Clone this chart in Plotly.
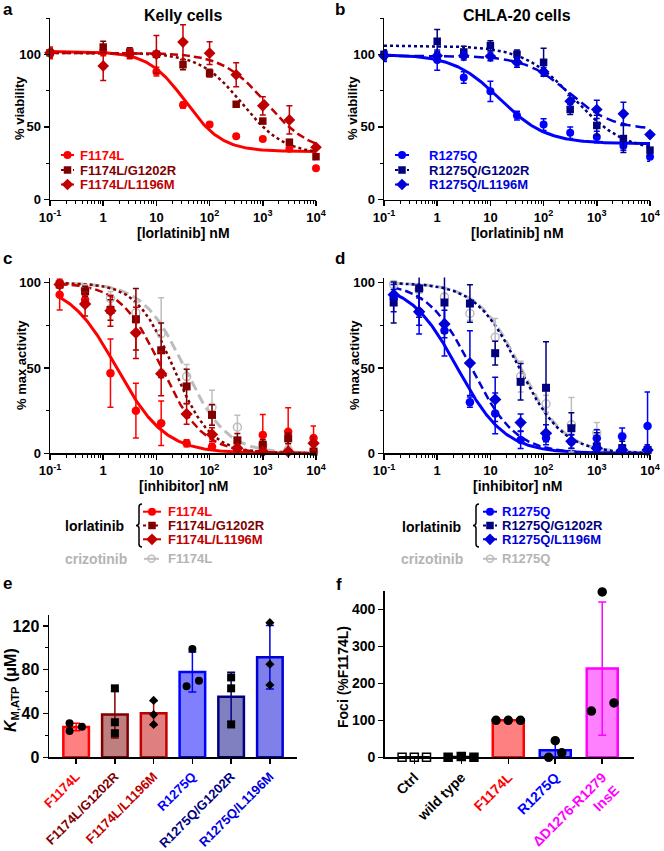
import numpy as np
import plotly.graph_objects as go

# ---------------- data ----------------
# panels a/b: cell viability, half-log dilutions of lorlatinib (nM)
conc_viability = [0.1, 1, 3.16, 10, 31.6, 100, 316, 1000, 3160, 10000]

kelly_F1174L = [101, 102, 100, 88, 65, 51.6, 43.6, 41.7, 35, 21.5]
kelly_F1174L_err = [4, 3, 3, 3, 2, 1, 1, 1, 1, 1]
kelly_F1174L_G1202R = [101, 105, 101.5, 100, 92.8, 87, 65.6, 54, 39.4, 29.5]
kelly_F1174L_G1202R_err = [3, 4, 3, 2, 3.4, 2.7, 1.5, 1.5, 2, 2]
kelly_F1174L_L1196M = [101, 92, 100.5, 100, 108.4, 100.8, 85.9, 64.5, 54.8, 36]
kelly_F1174L_L1196M_err = [3, 10, 3, 13, 12, 7.8, 8.3, 6.3, 9.7, 3]

chla_R1275Q = [99, 96, 84, 74.5, 57.8, 51.6, 46, 43, 37, 29.4]
chla_R1275Q_err = [4, 7, 4, 7, 3, 4, 4, 4, 3, 3]
chla_R1275Q_G1202R = [100, 109, 101.6, 106, 100, 94.5, 62, 51, 42, 34]
chla_R1275Q_G1202R_err = [3, 8, 4, 3.4, 3, 9.7, 3.4, 7, 9.7, 3]
chla_R1275Q_L1196M = [99, 99, 99, 98.6, 94.5, 88, 67.7, 62, 59, 44.7]
chla_R1275Q_L1196M_err = [3, 3, 3, 3, 3.4, 3, 4, 6.3, 8, 1]

# fitted 4-parameter curves: [top, bottom, IC50 (nM), Hill slope]
fit_kelly_F1174L = [102, 33, 35, 1.25]
fit_kelly_F1174L_G1202R = [101, 31, 410, 1.1]
fit_kelly_F1174L_L1196M = [101, 32, 1150, 1.05]
fit_chla_R1275Q = [100, 38.5, 15, 1.0]
fit_chla_R1275Q_G1202R = [106, 33, 370, 0.92]
fit_chla_R1275Q_L1196M = [99, 48, 300, 1.05]

# panels c/d: kinase activity, 3-fold dilutions of inhibitor (nM)
conc_activity = [0.152, 0.457, 1.37, 4.12, 12.3, 37, 111, 333, 1000, 3000, 9000]

act_F1174L = [93, 90, 47, 25, 17.6, 5.9, 3.9, 2, 10.8, 12.7, 9]
act_F1174L_err = [9, 3, 20, 16, 13, 2, 2, 2, 12, 14, 7]
act_F1174L_G1202R = [99, 95, 84, 78.6, 60.4, 39.2, 22.5, 7.6, 5, 8.8, 1]
act_F1174L_G1202R_err = [2, 3, 6, 18, 16, 10, 6, 4, 3, 3, 1]
act_F1174L_L1196M = [99, 87.5, 83.5, 70.6, 46.7, 23, 11, 3, 1, 1, 5.9]
act_F1174L_L1196M_err = [2, 7, 9, 15, 13, 6, 4, 2, 2, 1, 4]
act_F1174L_crizo = [99, 96, 90.8, 82.4, 70.2, 45, 27, 15.3, 5, 2, 1]
act_F1174L_crizo_err = [2, 3, 4, 6, 21, 7, 10, 7, 4, 3, 2]

act_R1275Q = [91, 83, 72, 30, 23.4, 7.8, 9, 6.8, 8.8, 9.8, 16]
act_R1275Q_err = [8, 13, 15, 3, 12, 5, 4, 4, 5, 5, 20]
act_R1275Q_G1202R = [88.4, 96.7, 88.4, 87.8, 58.7, 41.9, 38.4, 14.7, 4, 3, 2]
act_R1275Q_G1202R_err = [12, 17, 18, 11, 7, 10.7, 27, 9, 8, 4, 2]
act_R1275Q_L1196M = [93, 83, 75.8, 52.9, 31.6, 18, 11.7, 7, 3, 2, 2]
act_R1275Q_L1196M_err = [3, 8, 8, 19, 13, 5, 5, 4, 3, 2, 3]
act_R1275Q_crizo = [99, 96, 91.7, 82, 68, 45, 29, 16.7, 12, 10, 1]
act_R1275Q_crizo_err = [2, 2, 2, 4, 11, 9, 5, 16, 6, 2, 1]

fit_act_F1174L = [100, 0, 1.8, 0.96]
fit_act_F1174L_G1202R = [100, 0, 21, 1.25]
fit_act_F1174L_L1196M = [100, 0, 12.5, 1.12]
fit_act_F1174L_crizo = [100, 0, 34, 1.1]
fit_act_R1275Q = [100, 0, 2.4, 0.98]
fit_act_R1275Q_G1202R = [100, 0, 35, 1.05]
fit_act_R1275Q_L1196M = [100, 0, 4.4, 1.05]
fit_act_R1275Q_crizo = [100, 0, 37, 1.05]

# panel e: KM,ATP (uM)
km_labels = ["F1174L", "F1174L/G1202R", "F1174L/L1196M", "R1275Q", "R1275Q/G1202R", "R1275Q/L1196M"]
km_mean = [27.7, 39, 40.3, 78, 55.3, 91.3]
km_sd = [3.5, 21.4, 11.1, 18.3, 22.5, 29]
km_reps = [[31, 24, 28], [63, 32, 22], [52, 39, 30], [99, 65, 70], [73, 63, 30], [123, 85, 66]]

# panel f: foci (% of F1174L)
foci_labels = ["Ctrl", "wild type", "F1174L", "R1275Q", "\u0394D1276-R1279<br>InsE"]
foci_mean = [0, 0.7, 100, 19, 239.7]
foci_sd = [0, 1, 0, 23.3, 180]
foci_reps = [[0, 0, 0], [0, 2, 0], [100, 100, 100], [0, 45, 12], [447, 125, 147]]

# ---------------- style ----------------
W, H = 664, 851
FONT = "Liberation Sans, Arial, sans-serif"
RED, DARKRED, CRIMSON = "#FF0000", "#800000", "#C00000"
BLUE, NAVY, MBLUE = "#0000FF", "#000080", "#0000D8"
GRAY, GRAYTXT, MAGENTA = "#BDBDBD", "#B4B4B4", "#FF00FF"

km_fill = ["#FF8080", "#BF7F7F", "#E07F7F", "#8080FF", "#8080C0", "#8080EA"]
km_line = [RED, DARKRED, CRIMSON, BLUE, NAVY, MBLUE]
km_sym = ["circle", "square", "diamond", "circle", "square", "diamond"]
km_jit = [[-0.17, -0.17, 0.15], [0, 0, 0], [0, 0, 0], [0, -0.15, 0.17], [0, 0, 0], [0, 0, 0]]

foci_fill = ["white", "black", "#FF8080", "#8080FF", "#FF80FF"]
foci_line = ["black", "black", RED, BLUE, MAGENTA]
foci_txt = ["black", "black", RED, BLUE, MAGENTA]
foci_sym = ["square-open", "square", "circle", "circle", "circle"]
foci_jit = [[-0.26, 0, 0.26], [-0.28, 0, 0.27], [-0.26, 0, 0.26], [-0.14, 0, 0.14], [0, -0.23, 0.25]]


def px(x):
    return x / W


def py(y):
    return 1 - y / H


fig = go.Figure()


def add_curve(ax, params, xmin, xmax, color, dash, width=2.5):
    top, bottom, ic50, hill = params
    xs = np.logspace(np.log10(xmin), np.log10(xmax), 250)
    ys = bottom + (top - bottom) / (1 + (xs / ic50) ** hill)
    fig.add_trace(go.Scatter(x=xs, y=ys, mode="lines", hoverinfo="skip",
                             line=dict(color=color, dash=dash, width=width),
                             xaxis="x" + ax, yaxis="y" + ax))


def add_points(ax, x, y, err, color, symbol, size):
    is_open = symbol.endswith("open")
    fig.add_trace(go.Scatter(
        x=x, y=y, mode="markers", cliponaxis=False,
        marker=dict(symbol=symbol, size=size, color=color,
                    line=dict(width=1.5 if is_open else 0, color=color)),
        error_y=dict(type="data", array=err, color=color, thickness=1.5, width=3),
        xaxis="x" + ax, yaxis="y" + ax))


# panel a
add_curve("", fit_kelly_F1174L, 0.1, 10000, RED, "solid", 3)
add_curve("", fit_kelly_F1174L_G1202R, 0.1, 10000, DARKRED, "dot", 2.5)
add_curve("", fit_kelly_F1174L_L1196M, 0.1, 10000, CRIMSON, "8px,4px", 2.5)
add_points("", conc_viability, kelly_F1174L, kelly_F1174L_err, RED, "circle", 8)
add_points("", conc_viability, kelly_F1174L_G1202R, kelly_F1174L_G1202R_err, DARKRED, "square", 7.5)
add_points("", conc_viability, kelly_F1174L_L1196M, kelly_F1174L_L1196M_err, CRIMSON, "diamond", 9)

# panel b
add_curve("2", fit_chla_R1275Q, 0.1, 10000, BLUE, "solid", 3)
add_curve("2", fit_chla_R1275Q_G1202R, 0.1, 10000, NAVY, "dot", 2.5)
add_curve("2", fit_chla_R1275Q_L1196M, 0.1, 10000, MBLUE, "10px,5px", 2.5)
add_points("2", conc_viability, chla_R1275Q, chla_R1275Q_err, BLUE, "circle", 8)
add_points("2", conc_viability, chla_R1275Q_G1202R, chla_R1275Q_G1202R_err, NAVY, "square", 7.5)
add_points("2", conc_viability, chla_R1275Q_L1196M, chla_R1275Q_L1196M_err, MBLUE, "diamond", 9)

# panel c
cmin, cmax = conc_activity[0], conc_activity[-1]
add_curve("3", fit_act_F1174L_crizo, cmin, cmax, GRAY, "10px,5px", 3)
add_curve("3", fit_act_F1174L, cmin, cmax, RED, "solid", 3)
add_curve("3", fit_act_F1174L_G1202R, cmin, cmax, DARKRED, "dot", 2.5)
add_curve("3", fit_act_F1174L_L1196M, cmin, cmax, CRIMSON, "8px,4px", 2.5)
add_points("3", conc_activity, act_F1174L_crizo, act_F1174L_crizo_err, GRAY, "circle-open", 8)
add_points("3", conc_activity, act_F1174L, act_F1174L_err, RED, "circle", 8.5)
add_points("3", conc_activity, act_F1174L_G1202R, act_F1174L_G1202R_err, DARKRED, "square", 8)
add_points("3", conc_activity, act_F1174L_L1196M, act_F1174L_L1196M_err, CRIMSON, "diamond", 9.5)

# panel d
add_curve("4", fit_act_R1275Q_crizo, cmin, cmax, GRAY, "10px,5px", 3)
add_curve("4", fit_act_R1275Q, cmin, cmax, BLUE, "solid", 3)
add_curve("4", fit_act_R1275Q_G1202R, cmin, cmax, NAVY, "dot", 2.5)
add_curve("4", fit_act_R1275Q_L1196M, cmin, cmax, MBLUE, "8px,4px", 2.5)
add_points("4", conc_activity, act_R1275Q_crizo, act_R1275Q_crizo_err, GRAY, "circle-open", 8)
add_points("4", conc_activity, act_R1275Q, act_R1275Q_err, BLUE, "circle", 8.5)
add_points("4", conc_activity, act_R1275Q_G1202R, act_R1275Q_G1202R_err, NAVY, "square", 8)
add_points("4", conc_activity, act_R1275Q_L1196M, act_R1275Q_L1196M_err, MBLUE, "diamond", 9.5)

# panel e bars
for i in range(len(km_labels)):
    fig.add_trace(go.Bar(x=[i], y=[km_mean[i]], width=0.66, xaxis="x5", yaxis="y5",
                         marker=dict(color=km_fill[i], line=dict(color=km_line[i], width=2.5)),
                         error_y=dict(type="data", array=[km_sd[i]], color=km_line[i], thickness=1.5, width=4)))
for i in range(len(km_labels)):
    fig.add_trace(go.Scatter(x=[i + d for d in km_jit[i]], y=km_reps[i], mode="markers", cliponaxis=False,
                             marker=dict(symbol=km_sym[i], size=8 if km_sym[i] != "diamond" else 7, color="black"),
                             xaxis="x5", yaxis="y5"))

# panel f bars
for i in range(len(foci_labels)):
    fig.add_trace(go.Bar(x=[i], y=[foci_mean[i]], width=0.66, xaxis="x6", yaxis="y6",
                         marker=dict(color=foci_fill[i], line=dict(color=foci_line[i], width=2.5)),
                         error_y=dict(type="data", array=[foci_sd[i]], color=foci_line[i], thickness=1.5, width=4)))
for i in range(len(foci_labels)):
    fig.add_trace(go.Scatter(x=[i + d for d in foci_jit[i]], y=foci_reps[i], mode="markers", cliponaxis=False,
                             marker=dict(symbol=foci_sym[i], size=8, color="black",
                                         line=dict(width=1.5, color="black")),
                             xaxis="x6", yaxis="y6"))

# ---------------- legend glyphs (overlay axis in pixel units) ----------------
annotations = []
shapes = []


def glyph(x0, x1, y, color, dash, symbol, size, text, tx, tcolor):
    fig.add_trace(go.Scatter(x=[x0, x1], y=[y, y], mode="lines", cliponaxis=False,
                             line=dict(color=color, dash=dash, width=2), xaxis="x7", yaxis="y7", hoverinfo="skip"))
    is_open = symbol.endswith("open")
    fig.add_trace(go.Scatter(x=[(x0 + x1) / 2], y=[y], mode="markers", cliponaxis=False,
                             marker=dict(symbol=symbol, size=size, color=color,
                                         line=dict(width=1.5 if is_open else 0, color=color)),
                             xaxis="x7", yaxis="y7", hoverinfo="skip"))
    annotations.append(dict(x=tx, y=y, xref="x7", yref="y7", text=text, showarrow=False,
                            xanchor="left", yanchor="middle",
                            font=dict(size=13, color=tcolor, family=FONT, weight="bold")))


rows_ab = [155, 170, 184.5]
glyph(61, 74, rows_ab[0], RED, "solid", "circle", 8, "F1174L", 78, RED)
glyph(61, 74, rows_ab[1], DARKRED, "dot", "square", 7.5, "F1174L/G1202R", 78, DARKRED)
glyph(61, 74, rows_ab[2], CRIMSON, "solid", "diamond", 9, "F1174L/L1196M", 78, CRIMSON)
glyph(395, 409, rows_ab[0], BLUE, "solid", "circle", 8, "R1275Q", 427, BLUE)
glyph(395, 409, rows_ab[1], NAVY, "dot", "square", 7.5, "R1275Q/G1202R", 427, NAVY)
glyph(395, 409, rows_ab[2], MBLUE, "4px,2px", "diamond", 9, "R1275Q/L1196M", 427, MBLUE)

rows_cd = [511.7, 525.5, 539.3, 558.8]
glyph(143, 161, rows_cd[0], RED, "solid", "circle", 8, "F1174L", 166, RED)
glyph(143, 161, rows_cd[1], DARKRED, "dot", "square", 7.5, "F1174L/G1202R", 166, DARKRED)
glyph(143, 161, rows_cd[2], CRIMSON, "solid", "diamond", 9, "F1174L/L1196M", 166, CRIMSON)
glyph(144, 159, rows_cd[3], GRAY, "solid", "circle-open", 7, "F1174L", 166, GRAYTXT)
glyph(483, 497, rows_cd[0], BLUE, "solid", "circle", 8, "R1275Q", 500, BLUE)
glyph(483, 497, rows_cd[1], NAVY, "dot", "square", 7.5, "R1275Q/G1202R", 500, NAVY)
glyph(483, 497, rows_cd[2], MBLUE, "solid", "diamond", 9, "R1275Q/L1196M", 500, MBLUE)
glyph(483, 497, rows_cd[3], GRAY, "solid", "circle-open", 7, "R1275Q", 500, GRAYTXT)


def brace(x, y0, y1):
    xl, xm, xr = x - 3, x, x + 3
    ym = (y0 + y1) / 2
    r = 3
    return (f"M{xr},{y0} Q{xm},{y0} {xm},{y0 + r} L{xm},{ym - r} Q{xm},{ym} {xl},{ym} "
            f"Q{xm},{ym} {xm},{ym + r} L{xm},{y1 - r} Q{xm},{y1} {xr},{y1}")


for bx in (139, 476):
    shapes.append(dict(type="path", xref="x7", yref="y7", path=brace(bx, 504, 547),
                       line=dict(color="black", width=1.5)))


def ann(x, y, text, size=13, color="black", angle=0, xanchor="center"):
    annotations.append(dict(x=x, y=y, xref="x7", yref="y7", text=text, showarrow=False,
                            textangle=angle, xanchor=xanchor, yanchor="middle",
                            font=dict(size=size, color=color, family=FONT, weight="bold")))


ann(94, 526, "lorlatinib", 14)
ann(96, 558.8, "crizotinib", 14, GRAYTXT)
ann(431, 527, "lorlatinib", 14)
ann(432, 558.8, "crizotinib", 14, GRAYTXT)

# panel letters & titles
ann(1, 9, "a", 17, xanchor="left")
ann(333, 9, "b", 17, xanchor="left")
ann(1, 258, "c", 17, xanchor="left")
ann(333, 258, "d", 17, xanchor="left")
ann(1, 583, "e", 17, xanchor="left")
ann(334, 584, "f", 17, xanchor="left")
ann(183, 15, "Kelly cells", 16)
ann(517, 15, "CHLA-20 cells", 16)

# axis titles
ann(19, 108, "% viability", 13, angle=-90)
ann(352, 108, "% viability", 13, angle=-90)
ann(183, 232.7, "[lorlatinib] nM", 14)
ann(517, 232.7, "[lorlatinib] nM", 14)
ann(21, 365, "% max activity", 13, angle=-90)
ann(354, 365, "% max activity", 13, angle=-90)
ann(183, 486, "[inhibitor] nM", 14)
ann(517, 486, "[inhibitor] nM", 14)
ann(11, 690, "<i>K</i><sub>M,ATP</sub> (\u03bcM)", 16, angle=-90)
ann(343, 677, "Foci (%F1174L)", 14, angle=-90)

# ---------------- axes ----------------
TICK = dict(family=FONT, size=13, color="black", weight="bold")
log_major = [0.1, 1, 10, 100, 1000, 10000]
log_text = ["10<sup>-1</sup>", "1", "10", "10<sup>2</sup>", "10<sup>3</sup>", "10<sup>4</sup>"]
log_minor = [m * 10.0 ** d for d in range(-1, 4) for m in range(2, 10)]


def base_axis(**kw):
    d = dict(showline=True, linecolor="black", linewidth=1.5, ticks="outside", ticklen=5,
             tickwidth=1.5, tickcolor="black", showgrid=False, zeroline=False, tickfont=TICK,
             fixedrange=True, automargin=False)
    d.update(kw)
    return d


def log_x(dom, anchor):
    return base_axis(domain=dom, anchor=anchor, type="log", range=[-1, 4], tickvals=log_major,
                     ticktext=log_text,
                     minor=dict(tickvals=log_minor, ticks="outside", ticklen=3, tickwidth=1,
                                tickcolor="black"))


def lin_y(dom, anchor, rng, major, minor, font=TICK):
    return base_axis(domain=dom, anchor=anchor, range=rng, tickvals=major, tickfont=font,
                     minor=dict(tickvals=minor, ticks="outside", ticklen=3, tickwidth=1,
                                tickcolor="black"))


xa_left = [px(50), px(316)]
xa_right = [px(384), px(650)]
ya_top = [py(199.5), py(18)]
ya_mid = [py(453.3), py(277.6)]

TICK16 = dict(family=FONT, size=16, color="black", weight="bold")
TICKE = dict(family=FONT, size=13, color="black", weight="bold")
TICK14 = dict(family=FONT, size=14, color="black", weight="bold")

layout = dict(
    width=W, height=H, margin=dict(l=0, r=0, t=0, b=0, autoexpand=False), showlegend=False,
    paper_bgcolor="white", plot_bgcolor="rgba(0,0,0,0)", barmode="overlay",
    font=dict(family=FONT, color="black", weight="bold"),
    xaxis=log_x(xa_left, "y"),
    yaxis=lin_y(ya_top, "x", [0, 125], [0, 50, 100], [25, 75, 125]),
    xaxis2=log_x(xa_right, "y2"),
    yaxis2=lin_y(ya_top, "x2", [0, 125], [0, 50, 100], [25, 75, 125]),
    xaxis3=log_x(xa_left, "y3"),
    yaxis3=lin_y(ya_mid, "x3", [0, 103], [0, 50, 100], [25, 75]),
    xaxis4=log_x(xa_right, "y4"),
    yaxis4=lin_y(ya_mid, "x4", [0, 103], [0, 50, 100], [25, 75]),
    xaxis5=base_axis(domain=[px(49), px(297)], anchor="y5", range=[-0.7, 5.7],
                     tickvals=list(range(len(km_labels))),
                     ticktext=[f'<span style="color:{c}">{t}</span>' for t, c in zip(km_labels, km_line)],
                     tickangle=-45, tickfont=TICKE),
    yaxis5=lin_y([py(757.3), py(615)], "x5", [0, 130], [0, 40, 80, 120], [20, 60, 100], TICK16),
    xaxis6=base_axis(domain=[px(384.7), px(633.7)], anchor="y6", range=[-0.63, 4.67],
                     tickvals=list(range(len(foci_labels))),
                     ticktext=[f'<span style="color:{c}">{t}</span>' for t, c in zip(foci_labels, foci_txt)],
                     tickangle=-45, tickfont=TICK14),
    yaxis6=base_axis(domain=[py(757.3), py(590.8)], anchor="x6", range=[0, 450],
                     tickvals=[0, 100, 200, 300, 400], tickfont=TICK14),
    xaxis7=dict(domain=[0, 1], anchor="y7", range=[0, W], visible=False, fixedrange=True, automargin=False),
    yaxis7=dict(domain=[0, 1], anchor="x7", range=[H, 0], visible=False, fixedrange=True, automargin=False),
    annotations=annotations,
    shapes=shapes,
)
fig.update_layout(**layout)
fig.write_html("out.html", config={"displayModeBar": False, "staticPlot": True},
               post_script="document.body.style.margin='0';document.body.style.overflow='hidden';")
